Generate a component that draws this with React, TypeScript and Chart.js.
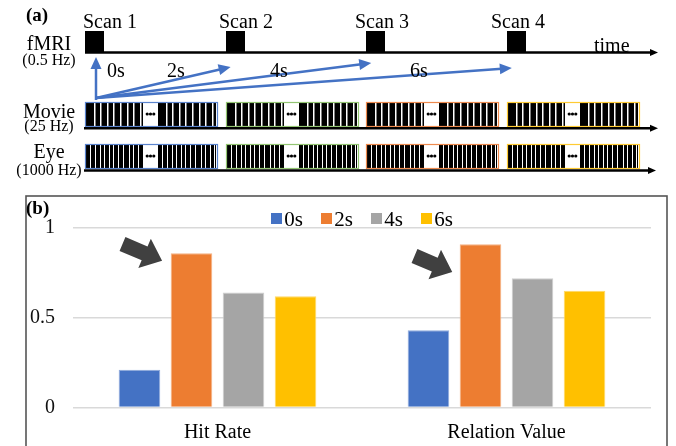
import React, { useEffect, useRef } from 'react';
import { Chart, registerables } from 'chart.js';

Chart.register(...registerables);

// ---------- Panel (b) data ----------
const CATEGORIES = ['Hit Rate', 'Relation Value'];
const SERIES_LABELS = ['0s', '2s', '4s', '6s'];
const VALUES_0S = [0.21, 0.43];
const VALUES_2S = [0.86, 0.91];
const VALUES_4S = [0.64, 0.72];
const VALUES_6S = [0.62, 0.65];
const Y_TICKS = [0, 0.5, 1];
const Y_TICK_LABELS = ['0', '0.5', '1'];
const SERIES_COLORS = ['#4472C4', '#ED7D31', '#A5A5A5', '#FFC000'];
const SERIES_EDGES = ['#8FAADC', '#F4B183', '#CFCFCF', '#FFD966'];

// ---------- Panel (a) diagram content ----------
const SCAN_LABELS = ['Scan 1', 'Scan 2', 'Scan 3', 'Scan 4'];
const SCAN_TIMES = [0, 2, 4, 6]; // seconds
const LAG_LABELS = ['0s', '2s', '4s', '6s'];
const ROW_NAMES = ['fMRI', 'Movie', 'Eye'];
const ROW_RATES = ['(0.5 Hz)', '(25 Hz)', '(1000 Hz)'];
const SEGMENT_EDGES = ['#5B84CE', '#93C572', '#EE8A4E', '#FFCB33'];
const MOVIE_PITCH = [6.6];
const EYE_PITCH = [4.5, 5, 4, 5.5, 4, 5, 4.5, 6, 4, 5, 4.5, 5.5];

const SERIF = '"Liberation Serif", "Times New Roman", serif';

// layout constants of the illustration
const T0_X = 85;
const PX_PER_SEC = 70.3;
const tx = (t: number) => T0_X + t * PX_PER_SEC;
const SCAN_LABEL_X = [83, 219, 355, 491];
const LAG_TIP_Y = [57, 67, 63, 68];
const LAG_LABEL_X = [116, 176, 279, 419];

function hArrow(ctx: CanvasRenderingContext2D, x0: number, x1: number, y: number, lw: number) {
  ctx.strokeStyle = '#000';
  ctx.fillStyle = '#000';
  ctx.lineWidth = lw;
  ctx.beginPath();
  ctx.moveTo(x0, y);
  ctx.lineTo(x1 - 6, y);
  ctx.stroke();
  ctx.beginPath();
  ctx.moveTo(x1, y);
  ctx.lineTo(x1 - 8, y - 3.5);
  ctx.lineTo(x1 - 8, y + 3.5);
  ctx.closePath();
  ctx.fill();
}

function lineArrow(ctx: CanvasRenderingContext2D, x0: number, y0: number, x1: number, y1: number) {
  const a = Math.atan2(y1 - y0, x1 - x0);
  const hl = 12, hw = 5.5;
  const bx = x1 - hl * Math.cos(a), by = y1 - hl * Math.sin(a);
  ctx.strokeStyle = '#4472C4';
  ctx.fillStyle = '#4472C4';
  ctx.lineWidth = 2.5;
  ctx.beginPath();
  ctx.moveTo(x0, y0);
  ctx.lineTo(bx + 2 * Math.cos(a), by + 2 * Math.sin(a));
  ctx.stroke();
  ctx.beginPath();
  ctx.moveTo(x1, y1);
  ctx.lineTo(bx - hw * Math.sin(a), by + hw * Math.cos(a));
  ctx.lineTo(bx + hw * Math.sin(a), by - hw * Math.cos(a));
  ctx.closePath();
  ctx.fill();
}

function stripes(ctx: CanvasRenderingContext2D, x0: number, x1: number, y0: number, y1: number, pitches: number[], whiteW: number, first: number) {
  ctx.fillStyle = '#000';
  ctx.fillRect(x0, y0, x1 - x0, y1 - y0);
  ctx.fillStyle = '#fff';
  let x = x0 + first;
  let i = 0;
  while (x < x1 - 1.5) {
    ctx.fillRect(Math.round(x), y0, whiteW, y1 - y0);
    x += pitches[i % pitches.length];
    i++;
  }
}

function segmentBox(ctx: CanvasRenderingContext2D, bx: number, y0: number, h: number, color: string, pitches: number[], whiteW: number, first: number) {
  const w = 132;
  const x0 = Math.round(bx);
  stripes(ctx, x0 + 1, x0 + 58, y0, y0 + h, pitches, whiteW, first);
  stripes(ctx, x0 + 73, x0 + w - 1, y0, y0 + h, pitches, whiteW, first);
  // dots
  ctx.fillStyle = '#000';
  const cx = x0 + 65.5, cy = y0 + h / 2;
  for (let k = -1; k <= 1; k++) {
    ctx.beginPath();
    ctx.arc(cx + k * 3.3, cy, 1.6, 0, Math.PI * 2);
    ctx.fill();
  }
  ctx.strokeStyle = color;
  ctx.lineWidth = 1.2;
  ctx.strokeRect(x0 + 0.5, y0 + 0.5, w, h);
}

function blockArrow(ctx: CanvasRenderingContext2D, x: number, y: number, angDeg: number, len: number) {
  const shaftW = 15, headW = 32, headL = 19;
  ctx.save();
  ctx.translate(x, y);
  ctx.rotate((angDeg * Math.PI) / 180);
  ctx.fillStyle = '#404040';
  ctx.beginPath();
  ctx.moveTo(0, -shaftW / 2);
  ctx.lineTo(len - headL, -shaftW / 2);
  ctx.lineTo(len - headL, -headW / 2);
  ctx.lineTo(len, 0);
  ctx.lineTo(len - headL, headW / 2);
  ctx.lineTo(len - headL, shaftW / 2);
  ctx.lineTo(0, shaftW / 2);
  ctx.closePath();
  ctx.fill();
  ctx.restore();
}

function drawDiagram(ctx: CanvasRenderingContext2D) {
  ctx.save();
  ctx.fillStyle = '#000';
  ctx.textBaseline = 'alphabetic';
  ctx.textAlign = 'left';
  ctx.font = `bold 19px ${SERIF}`;
  ctx.fillText('(a)', 26, 21);

  // row labels
  const rowNameY = [50, 118, 158];
  const rowRateY = [65, 131, 175];
  ctx.textAlign = 'center';
  ROW_NAMES.forEach((n, i) => {
    ctx.font = `20px ${SERIF}`;
    ctx.fillText(n, 49, rowNameY[i]);
    ctx.font = `16px ${SERIF}`;
    ctx.fillText(ROW_RATES[i], 49, rowRateY[i]);
  });

  // fMRI timeline
  hArrow(ctx, T0_X, 658, 52.5, 2.6);
  ctx.fillStyle = '#000';
  SCAN_TIMES.forEach((t, i) => {
    ctx.fillRect(Math.round(tx(t)), 31, 19, 21);
    ctx.font = `20px ${SERIF}`;
    ctx.textAlign = 'left';
    ctx.fillText(SCAN_LABELS[i], SCAN_LABEL_X[i], 28);
  });
  ctx.font = `20px ${SERIF}`;
  ctx.fillText('time', 594, 52);

  // lag arrows
  const ox = 96, oy = 98;
  SCAN_TIMES.forEach((t, i) => {
    const tipX = i === 0 ? ox : tx(t) + 5;
    lineArrow(ctx, ox, i === 0 ? 100 : oy, tipX, LAG_TIP_Y[i]);
  });
  ctx.fillStyle = '#000';
  ctx.textAlign = 'center';
  ctx.font = `20px ${SERIF}`;
  LAG_LABELS.forEach((l, i) => ctx.fillText(l, LAG_LABEL_X[i], 77));

  // movie & eye rows
  SCAN_TIMES.forEach((t, i) => {
    segmentBox(ctx, tx(t), 102, 24, SEGMENT_EDGES[i], MOVIE_PITCH, 1.5, 7.7);
    segmentBox(ctx, tx(t), 144, 24, SEGMENT_EDGES[i], EYE_PITCH, 1, 4);
  });
  hArrow(ctx, 84, 658, 128.2, 2.6);
  hArrow(ctx, 84, 656, 170.5, 2.6);
  ctx.restore();
}

const decorPlugin = {
  id: 'figureDecor',
  afterDraw(chart: any) {
    const ctx: CanvasRenderingContext2D = chart.ctx;
    drawDiagram(ctx);
    ctx.save();
    // panel (b) frame
    ctx.strokeStyle = '#555';
    ctx.lineWidth = 1.6;
    ctx.strokeRect(26, 196, 641, 300);
    ctx.fillStyle = '#000';
    ctx.font = `bold 19px ${SERIF}`;
    ctx.textAlign = 'left';
    ctx.textBaseline = 'alphabetic';
    ctx.fillText('(b)', 26, 214);

    // legend from datasets
    const ds = chart.data.datasets;
    const ca = chart.chartArea;
    const pitch = 50;
    ctx.font = `21px ${SERIF}`;
    const lastW = 13 + ctx.measureText(ds[ds.length - 1].label).width;
    const total = pitch * (ds.length - 1) + lastW;
    let lx = (ca.left + ca.right) / 2 - total / 2;
    ds.forEach((d: any) => {
      ctx.fillStyle = d.backgroundColor;
      ctx.fillRect(Math.round(lx), 213, 11, 11);
      ctx.fillStyle = '#000';
      ctx.fillText(d.label, lx + 13, 225.5);
      lx += pitch;
    });

    // emphasis arrows
    blockArrow(ctx, 122.5, 244, 23, 43);
    blockArrow(ctx, 414.5, 256, 23, 41);
    ctx.restore();
  },
};

export default function App() {
  const ref = useRef<HTMLCanvasElement | null>(null);
  useEffect(() => {
    if (!ref.current) return;
    const seriesValues = [VALUES_0S, VALUES_2S, VALUES_4S, VALUES_6S];
    const chart = new Chart(ref.current, {
      type: 'bar',
      data: {
        labels: CATEGORIES,
        datasets: SERIES_LABELS.map((label, i) => ({
          label,
          data: seriesValues[i],
          backgroundColor: SERIES_COLORS[i],
          borderColor: SERIES_EDGES[i],
          borderWidth: 1,
          categoryPercentage: 0.72,
          barPercentage: 0.8,
        })),
      },
      options: {
        responsive: false,
        animation: false,
        devicePixelRatio: 1,
        layout: { padding: { top: 228, right: 25, left: 0, bottom: 0 } },
        plugins: { legend: { display: false }, tooltip: { enabled: false } },
        scales: {
          x: {
            grid: { display: false, drawTicks: false },
            border: { display: false },
            ticks: { font: { family: SERIF, size: 20 }, color: '#000', padding: 13 },
            afterFit: (s: any) => {
              s.height = 38.5;
            },
          },
          y: {
            min: 0,
            max: 1,
            afterBuildTicks: (s: any) => {
              s.ticks = Y_TICKS.map((v) => ({ value: v }));
            },
            ticks: {
              font: { family: SERIF, size: 20 },
              color: '#111',
              padding: 18,
              callback: (v: any) => {
                const idx = Y_TICKS.indexOf(Number(v));
                return idx >= 0 ? Y_TICK_LABELS[idx] : String(v);
              },
            },
            grid: { color: '#D9D9D9', lineWidth: 1.6, drawTicks: false },
            border: { display: false },
            afterFit: (s: any) => {
              s.width = 73;
            },
          },
        },
      },
      plugins: [decorPlugin],
    } as any);
    return () => chart.destroy();
  }, []);
  return (
    <div style={{ position: 'absolute', left: 0, top: 0, width: 676, height: 446, background: '#fff' }}>
      <canvas ref={ref} width={676} height={446} style={{ display: 'block' }} />
    </div>
  );
}
